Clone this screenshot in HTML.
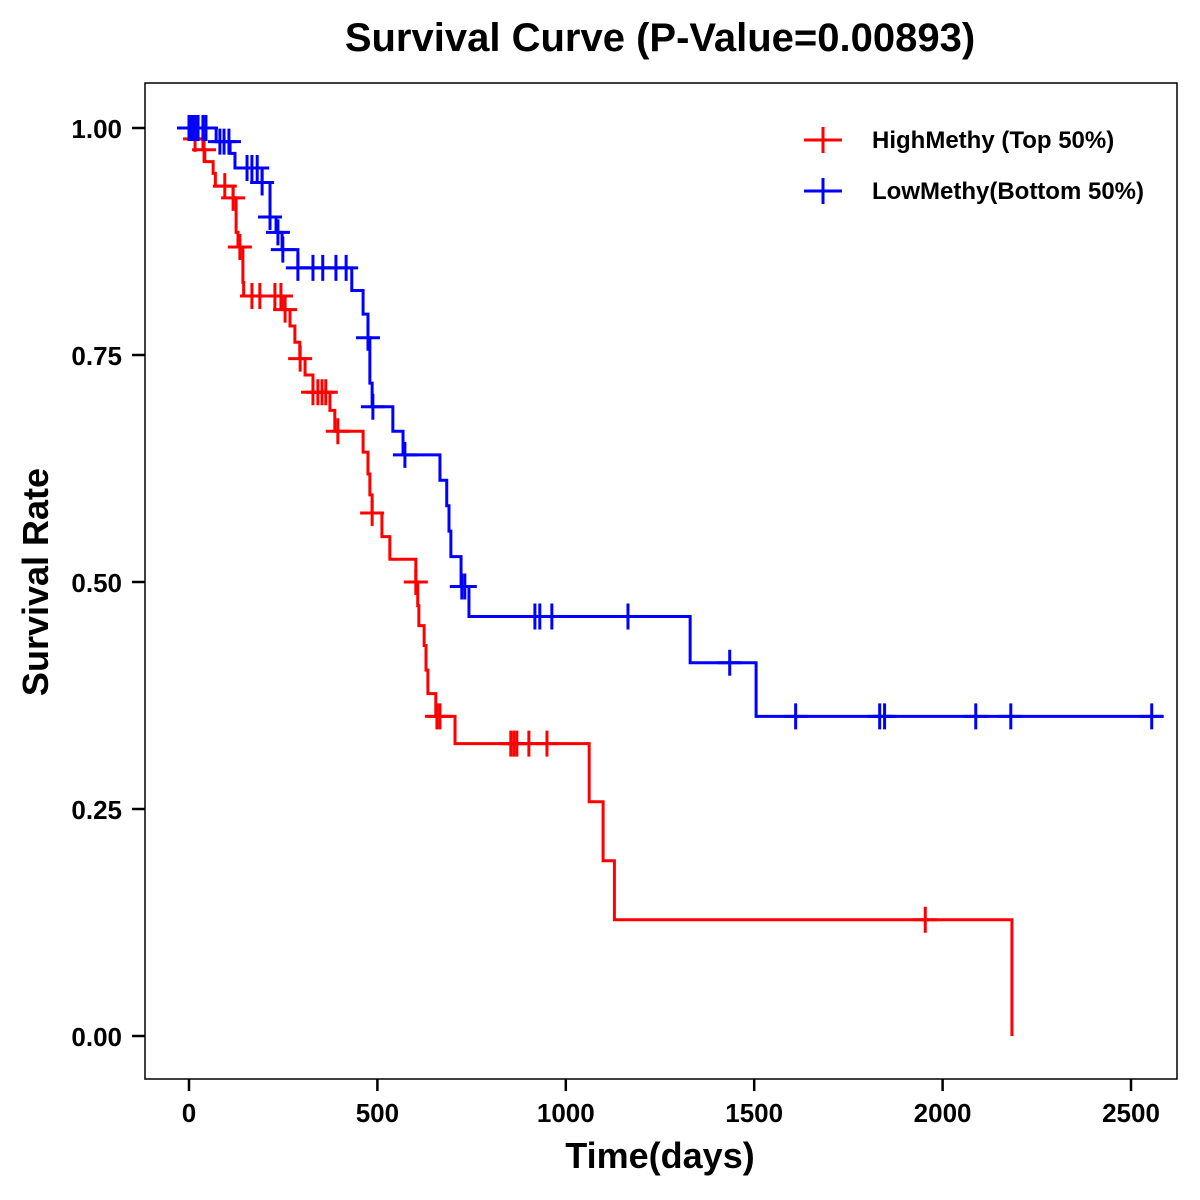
<!DOCTYPE html>
<html><head><meta charset="utf-8"><style>
html,body{margin:0;padding:0;background:#fff;}
svg{display:block;font-family:"Liberation Sans",Arial,sans-serif;font-weight:bold;}
</style></head><body>
<svg id="chart" width="1200" height="1200" viewBox="0 0 1200 1200" xmlns="http://www.w3.org/2000/svg">
<rect width="1200" height="1200" fill="#fff"/>
<text x="660" y="51" font-size="40" text-anchor="middle">Survival Curve (P-Value=0.00893)</text>
<rect x="145" y="83" width="1032" height="996" fill="none" stroke="#000" stroke-width="1.5"/>
<g id="axes"></g>
<g id="series"></g>
<text x="660" y="1168" font-size="36" text-anchor="middle">Time(days)</text>
<text transform="translate(48,582) rotate(-90)" font-size="36" text-anchor="middle">Survival Rate</text>
<g>
<g>
<line x1="804" y1="140" x2="842" y2="140" stroke="#f00" stroke-width="3"/>
<line x1="823" y1="127" x2="823" y2="153" stroke="#f00" stroke-width="3"/>
<text x="872" y="148" font-size="24">HighMethy (Top 50%)</text></g>
<g>
<line x1="804" y1="191" x2="842" y2="191" stroke="#00f" stroke-width="3"/>
<line x1="823" y1="178" x2="823" y2="204" stroke="#00f" stroke-width="3"/>
<text x="872" y="199" font-size="24">LowMethy(Bottom 50%)</text></g>
</g>
</svg>
<script>
const xTicks=[0,500,1000,1500,2000,2500];
const yTicks=[0,0.25,0.5,0.75,1.0];
const yTickLabels=["0.00","0.25","0.50","0.75","1.00"];
const highTimes=[16,37,42,64,70,117,125,130,143,145,247,268,281,294,308,329,374,387,462,475,480,486,512,533,602,607,610,624,629,634,655,706,1062,1099,1129,2184];
const highSurv=[0.988,0.976,0.963,0.950,0.936,0.923,0.885,0.869,0.830,0.815,0.800,0.782,0.764,0.746,0.728,0.709,0.689,0.666,0.643,0.619,0.596,0.576,0.550,0.525,0.500,0.474,0.452,0.430,0.403,0.377,0.352,0.322,0.258,0.193,0.128,0];
const highCensor=[16,40,95,117,135,167,188,228,244,255,295,329,342,353,363,395,486,602,658,666,854,862,870,902,950,1954];
const highEnd=2184;
const lowTimes=[72,109,122,194,215,231,247,289,432,462,475,480,486,541,568,666,684,690,695,722,743,1330,1505];
const lowSurv=[0.985,0.972,0.956,0.940,0.902,0.885,0.866,0.846,0.821,0.795,0.769,0.719,0.693,0.666,0.640,0.612,0.584,0.556,0.528,0.495,0.462,0.411,0.352];
const lowCensor=[0,5,10,16,24,37,45,82,93,106,154,167,181,194,215,236,249,289,329,355,390,417,475,488,573,724,732,918,931,963,1165,1435,1610,1833,1846,2088,2181,2555];
const lowEnd=2585;

const NS="http://www.w3.org/2000/svg";
const xs=t=>189+t*(1131-189)/2500;
const ys=s=>1036-s*908;
const axes=document.getElementById('axes');
const ser=document.getElementById('series');
function mk(tag,attrs,parent){const e=document.createElementNS(NS,tag);for(const k in attrs)e.setAttribute(k,attrs[k]);parent.appendChild(e);return e;}
xTicks.forEach(v=>{
  const g=mk('g',{},axes);
  
  
  mk('line',{x1:xs(v),x2:xs(v),y1:1079,y2:1091,stroke:'#000','stroke-width':2.5},g);
  const t=mk('text',{x:xs(v),y:1122,'font-size':26,'text-anchor':'middle'},g);t.textContent=v;
});
yTicks.forEach((v,i)=>{
  const g=mk('g',{},axes);
  
  
  mk('line',{x1:132,x2:145,y1:ys(v),y2:ys(v),stroke:'#000','stroke-width':2.5},g);
  const t=mk('text',{x:122,y:ys(v)+10,'font-size':26,'text-anchor':'end'},g);t.textContent=yTickLabels[i];
});
function survAt(times,surv,t){let s=1;for(let i=0;i<times.length;i++){if(times[i]<=t)s=surv[i];}return s;}
function draw(times,surv,cens,end,color,name){
  let d='M'+xs(0)+','+ys(1);
  for(let i=0;i<times.length;i++){d+=' H'+xs(times[i])+' V'+ys(surv[i]);}
  d+=' H'+xs(end);
  const p=mk('path',{d:d,fill:'none',stroke:color,'stroke-width':3},ser);
  
  
  cens.forEach(t=>{
    const x=xs(t),y=ys(survAt(times,surv,t));
    const m=mk('path',{d:'M'+(x-12)+','+y+' H'+(x+12)+' M'+x+','+(y-13)+' V'+(y+13),stroke:color,'stroke-width':3,fill:'none'},ser);
    
    
  });
}
draw(highTimes,highSurv,highCensor,highEnd,'#f00','high-methy');
draw(lowTimes,lowSurv,lowCensor,lowEnd,'#00f','low-methy');
</script>
</body></html>
